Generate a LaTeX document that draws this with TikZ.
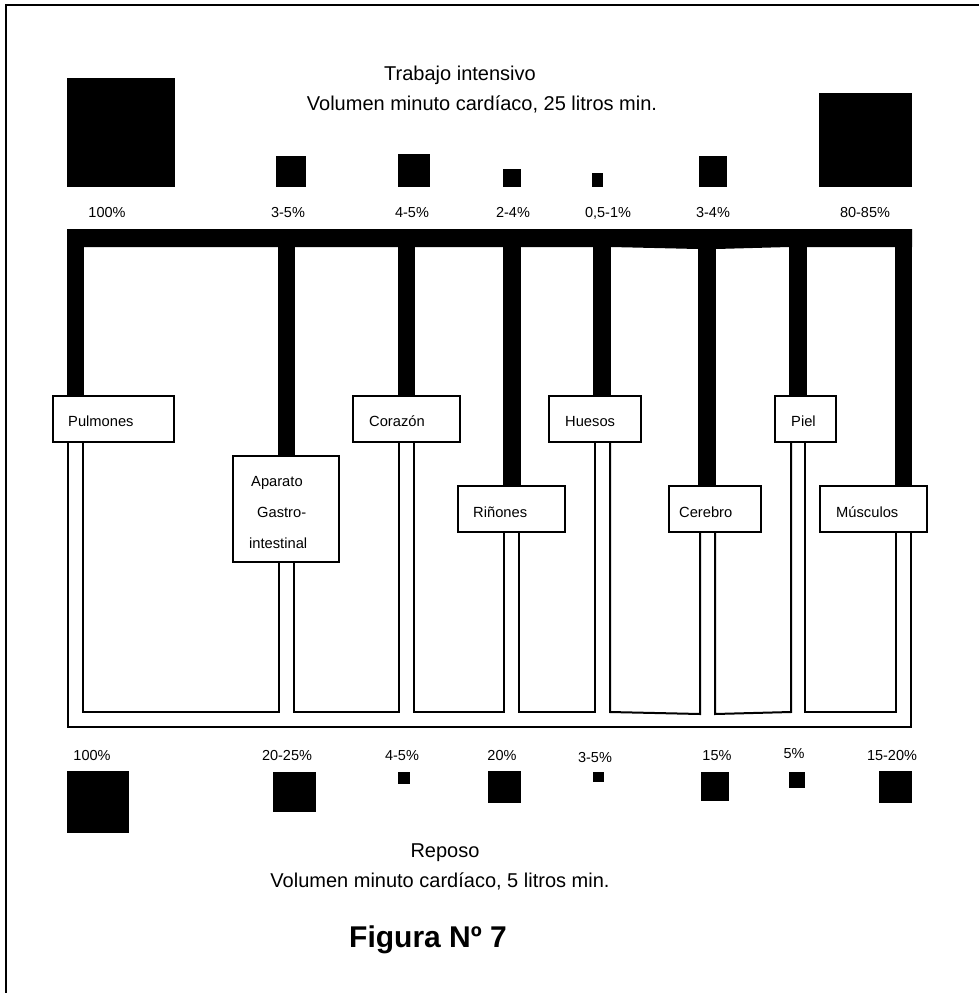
\documentclass[tikz,border=0pt]{standalone}
\usepackage{fontspec}
\setmainfont{Liberation Sans}
\begin{document}
\begin{tikzpicture}[x=1pt,y=-1pt,
  organ/.style={draw,line width=2pt,fill=white,inner sep=0pt},
  lbl/.style={inner sep=0pt,anchor=base west,font=\fontsize{14.7}{17}\selectfont},
  pct/.style={inner sep=0pt,anchor=base,font=\fontsize{14.5}{17}\selectfont},
  ttl/.style={inner sep=0pt,anchor=base,font=\fontsize{20}{24}\selectfont},
  tube/.style={draw,line width=2pt,line join=miter}]
\useasboundingbox (0,0) rectangle (979,993);
% frame
\draw[line width=2.5pt] (6,1005) -- (6,5) -- (990,5);
% titles
\node[ttl] (t1) at (460,80) {Trabajo intensivo};
\node[ttl] (t2) at (482,110) {Volumen minuto cardíaco, 25 litros min.};
\node[ttl] (t3) at (445,857) {Reposo};
\node[ttl] (t4) at (440,887) {Volumen minuto cardíaco, 5 litros min.};
\node[inner sep=0pt,anchor=base,font=\fontsize{30}{36}\selectfont\bfseries] (fig) at (428,947) {Figura Nº 7};
% top squares
\fill (67,78) rectangle (175,187);
\fill (276,156) rectangle (306,187);
\fill (398,154) rectangle (430,187);
\fill (503,169) rectangle (521,187);
\fill (592,173) rectangle (603,187);
\fill (699,156) rectangle (727,187);
\fill (819,93) rectangle (912,187);
\node[pct] (p1) at (107,217) {100\%};
\node[pct] (p2) at (288,217) {3-5\%};
\node[pct] (p3) at (412,217) {4-5\%};
\node[pct] (p4) at (513,217) {2-4\%};
\node[pct] (p5) at (608,217) {0,5-1\%};
\node[pct] (p6) at (713,217) {3-4\%};
\node[pct] (p7) at (865,217) {80-85\%};
% bottom squares
\fill (67,771) rectangle (129,833);
\fill (273,772) rectangle (316,812);
\fill (398,772) rectangle (410,784);
\fill (488,771) rectangle (521,803);
\fill (593,772) rectangle (604,782);
\fill (701,772) rectangle (729,801);
\fill (789,772) rectangle (805,788);
\fill (879,771) rectangle (912,803);
\node[pct] (q1) at (92,760) {100\%};
\node[pct] (q2) at (287,760) {20-25\%};
\node[pct] (q3) at (402,760) {4-5\%};
\node[pct] (q4) at (502,760) {20\%};
\node[pct] (q5) at (595,762) {3-5\%};
\node[pct] (q6) at (717,760) {15\%};
\node[pct] (q7) at (794,758) {5\%};
\node[pct] (q8) at (892,760) {15-20\%};
% organ boxes
\node[organ,minimum width=121pt,minimum height=46pt] (pul) at (113.5,419) {};
\node[organ,minimum width=106pt,minimum height=106pt] (gas) at (286,509) {};
\node[organ,minimum width=107pt,minimum height=46pt] (cor) at (406.5,419) {};
\node[organ,minimum width=107pt,minimum height=46pt] (rin) at (511.5,509) {};
\node[organ,minimum width=92pt,minimum height=46pt] (hue) at (595,419) {};
\node[organ,minimum width=92pt,minimum height=46pt] (cer) at (715,509) {};
\node[organ,minimum width=61pt,minimum height=46pt] (pie) at (805.5,419) {};
\node[organ,minimum width=107pt,minimum height=46pt] (mus) at (873.5,509) {};
\node[lbl] (pult) at (68,426) {Pulmones};
\node[lbl] (gas1) at (251,486) {Aparato};
\node[lbl] (gas2) at (257,517) {Gastro-};
\node[lbl] (gas3) at (249,548) {intestinal};
\node[lbl] (cort) at (369,426) {Corazón};
\node[lbl] (rint) at (473,517) {Riñones};
\node[lbl] (huet) at (565,426) {Huesos};
\node[lbl] (cert) at (679,517) {Cerebro};
\node[lbl] (piet) at (791,426) {Piel};
\node[lbl] (must) at (836,517) {Músculos};
% black arteries
\fill (67,229) -- (912,229) -- (912,247) -- (807,247) -- (789,247) -- (716,249) -- (698,249) -- (611,247) -- (67,247) -- cycle;
\fill (67,246) rectangle (84,0 |- pul.north);
\fill (278,246) rectangle (295,0 |- gas.north);
\fill (398,246) rectangle (415,0 |- cor.north);
\fill (503,246) rectangle (521,0 |- rin.north);
\fill (593,246) rectangle (611,0 |- hue.north);
\fill (698,246) rectangle (716,0 |- cer.north);
\fill (789,246) rectangle (807,0 |- pie.north);
\fill (895,246) rectangle (912,0 |- mus.north);
% white veins
\draw[tube] (68,0 |- pul.south) -- (68,727) -- (911,727) -- (911,0 |- mus.south);
\draw[tube] (83,0 |- pul.south) -- (83,712) -- (279,712) -- (279,0 |- gas.south);
\draw[tube] (294,0 |- gas.south) -- (294,712) -- (399,712) -- (399,0 |- cor.south);
\draw[tube] (414,0 |- cor.south) -- (414,712) -- (504,712) -- (504,0 |- rin.south);
\draw[tube] (519,0 |- rin.south) -- (519,712) -- (595,712) -- (595,0 |- hue.south);
\draw[tube] (610,0 |- hue.south) -- (610,712) -- (700,714) -- (700,0 |- cer.south);
\draw[tube] (715,0 |- cer.south) -- (715,714) -- (791,712) -- (791,0 |- pie.south);
\draw[tube] (805,0 |- pie.south) -- (805,712) -- (896,712) -- (896,0 |- mus.south);
\end{tikzpicture}
\end{document}
